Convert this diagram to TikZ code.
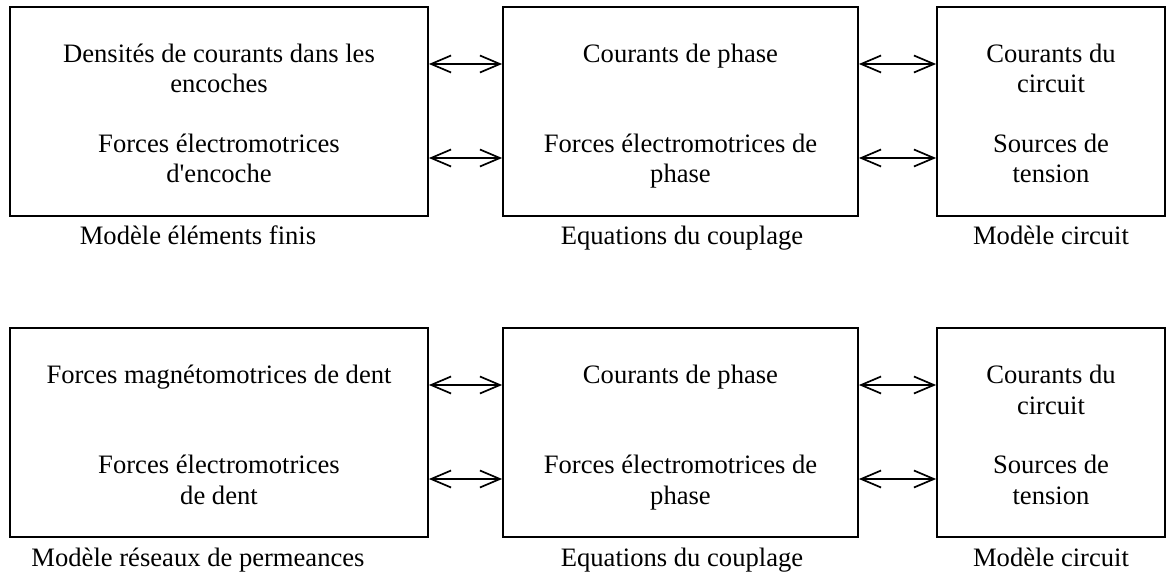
\documentclass[tikz,border=0pt]{standalone}
\usepackage{fontspec}
\setmainfont{Liberation Serif}[Ligatures=TeXOff]
\usetikzlibrary{arrows.meta}
\begin{document}
\begin{tikzpicture}[x=1pt,y=-1pt,
  box/.style={draw, line width=1.8pt, inner sep=0pt},
  lbl/.style={font=\fontsize{26.6}{30.5}\selectfont, align=center, inner sep=0pt, anchor=base},
  link/.style={{Straight Barb[length=20pt,width=17pt]}-{Straight Barb[length=20pt,width=17pt]}, line width=1.7pt}]
\useasboundingbox (0,0) rectangle (1169,577);
% top row boxes
\node[box, minimum width=418pt, minimum height=209pt] (b1) at (219,111.5) {};
\node[box, minimum width=355pt, minimum height=209pt] (b2) at (680.5,111.5) {};
\node[box, minimum width=228pt, minimum height=209pt] (b3) at (1051,111.5) {};
% bottom row boxes
\node[box, minimum width=418pt, minimum height=209pt] (c1) at (219,432.5) {};
\node[box, minimum width=355pt, minimum height=209pt] (c2) at (680.5,432.5) {};
\node[box, minimum width=228pt, minimum height=209pt] (c3) at (1051,432.5) {};
% top row texts (anchor = baseline of last line)
\node[lbl] (t1a) at (219,93) {Densités de courants dans les\\encoches};
\node[lbl] (t1b) at (219,183) {Forces électromotrices\\d'encoche};
\node[lbl] (t2a) at (680.5,62.5) {Courants de phase};
\node[lbl] (t2b) at (680.5,183) {Forces électromotrices de\\phase};
\node[lbl] (t3a) at (1051,93) {Courants du\\circuit};
\node[lbl] (t3b) at (1051,183) {Sources de\\tension};
\node[lbl] (cap1) at (198,245) {Modèle éléments finis};
\node[lbl] (cap2) at (682,245) {Equations du couplage};
\node[lbl] (cap3) at (1051,245) {Modèle circuit};
% bottom row texts
\node[lbl] (u1a) at (219,383) {Forces magnétomotrices de dent};
\node[lbl] (u1b) at (219,504) {Forces électromotrices\\de dent};
\node[lbl] (u2a) at (680.5,383) {Courants de phase};
\node[lbl] (u2b) at (680.5,504) {Forces électromotrices de\\phase};
\node[lbl] (u3a) at (1051,414) {Courants du\\circuit};
\node[lbl] (u3b) at (1051,504) {Sources de\\tension};
\node[lbl] (cap4) at (198,566) {Modèle réseaux de permeances};
\node[lbl] (cap5) at (682,566) {Equations du couplage};
\node[lbl] (cap6) at (1051,566) {Modèle circuit};
% arrow rows
\coordinate (r1) at (0,64);
\coordinate (r2) at (0,158);
\coordinate (r3) at (0,385);
\coordinate (r4) at (0,479);
\draw[link] (b1.east |- r1) -- (b2.west |- r1);
\draw[link] (b1.east |- r2) -- (b2.west |- r2);
\draw[link] (b2.east |- r1) -- (b3.west |- r1);
\draw[link] (b2.east |- r2) -- (b3.west |- r2);
\draw[link] (c1.east |- r3) -- (c2.west |- r3);
\draw[link] (c1.east |- r4) -- (c2.west |- r4);
\draw[link] (c2.east |- r3) -- (c3.west |- r3);
\draw[link] (c2.east |- r4) -- (c3.west |- r4);
\end{tikzpicture}
\end{document}
